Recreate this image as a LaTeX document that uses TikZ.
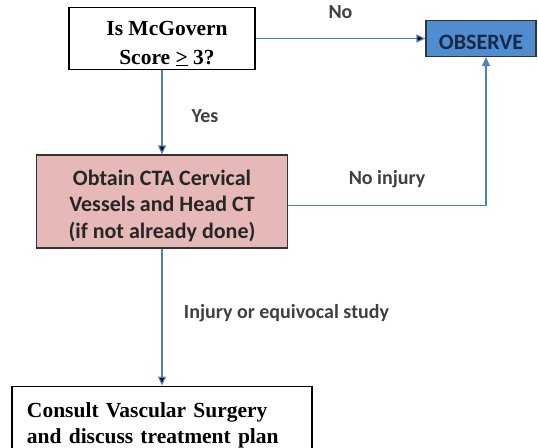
\documentclass[tikz,border=0pt]{standalone}
\usepackage{fontspec}
\setmainfont{Liberation Serif}
\newfontfamily\calibri{Carlito}
\usepackage{tikz}
\usetikzlibrary{arrows.meta, positioning}

\definecolor{arrowblue}{RGB}{79,129,189}
\definecolor{observeblue}{RGB}{79,141,208}
\definecolor{observetext}{RGB}{25,40,70}
\definecolor{ctapink}{RGB}{230,185,184}
\definecolor{labelgrey}{RGB}{64,64,64}
\definecolor{textdark}{RGB}{38,38,38}

\tikzset{
    serifbox/.style={draw=black, line width=1.2pt, font=\fontsize{21.5}{26}\selectfont\bfseries, inner sep=0pt},
    sansbox/.style={draw=black!80, line width=1.2pt, text=textdark, font=\calibri\fontsize{22}{26.5}\selectfont\bfseries, align=center, inner sep=0pt},
    edgelabel/.style={text=labelgrey, font=\calibri\fontsize{20}{24}\selectfont\bfseries}
}

\begin{document}
\begin{tikzpicture}[x=1pt, y=1pt, node distance=162pt, >={Triangle[length=9pt, width=8pt]}]
        \useasboundingbox (0,0) rectangle (538,-447);

        \node[serifbox, font=\fontsize{21.5}{29}\selectfont\bfseries, align=center, text height=51pt, text depth=0pt, minimum width=186pt, minimum height=62pt] (score) at (162,-38.5) {\hspace*{10pt}Is McGovern\\\hspace*{10pt}Score \underline{>} 3?};
        \node[sansbox, fill=observeblue, text=observetext, text height=22pt, text depth=0pt, minimum width=110pt, minimum height=36pt] (observe) [right of=score, node distance=319pt] {OBSERVE};
        \node[sansbox, fill=ctapink, text height=73pt, text depth=0pt, minimum width=251pt, minimum height=93pt] (cta) [below of=score, node distance=163pt] {Obtain CTA Cervical\\Vessels and Head CT\\(if not already done)};
        \node[serifbox, align=left, text width=270pt, inner xsep=15pt, inner ysep=16pt, anchor=north] (consult) at ([yshift=-137pt]cta.south) {Consult Vascular Surgery\\and discuss treatment plan};

        \path[->, draw=arrowblue, line width=1.2pt]
                  (score) edge node [edgelabel, yshift=26pt] {No} (observe)
                  (score) edge node [edgelabel, xshift=43pt, yshift=-4pt] {Yes} (cta)
                  (cta) edge node [edgelabel, right=18pt, yshift=4pt] {Injury or equivocal study} (consult);
        \draw[->, draw=arrowblue, line width=1.2pt] ([yshift=-4pt]cta.east) -| node [edgelabel, pos=0.25, yshift=26pt] {No injury} ([xshift=5pt]observe.south);
    \end{tikzpicture}
\end{document}
